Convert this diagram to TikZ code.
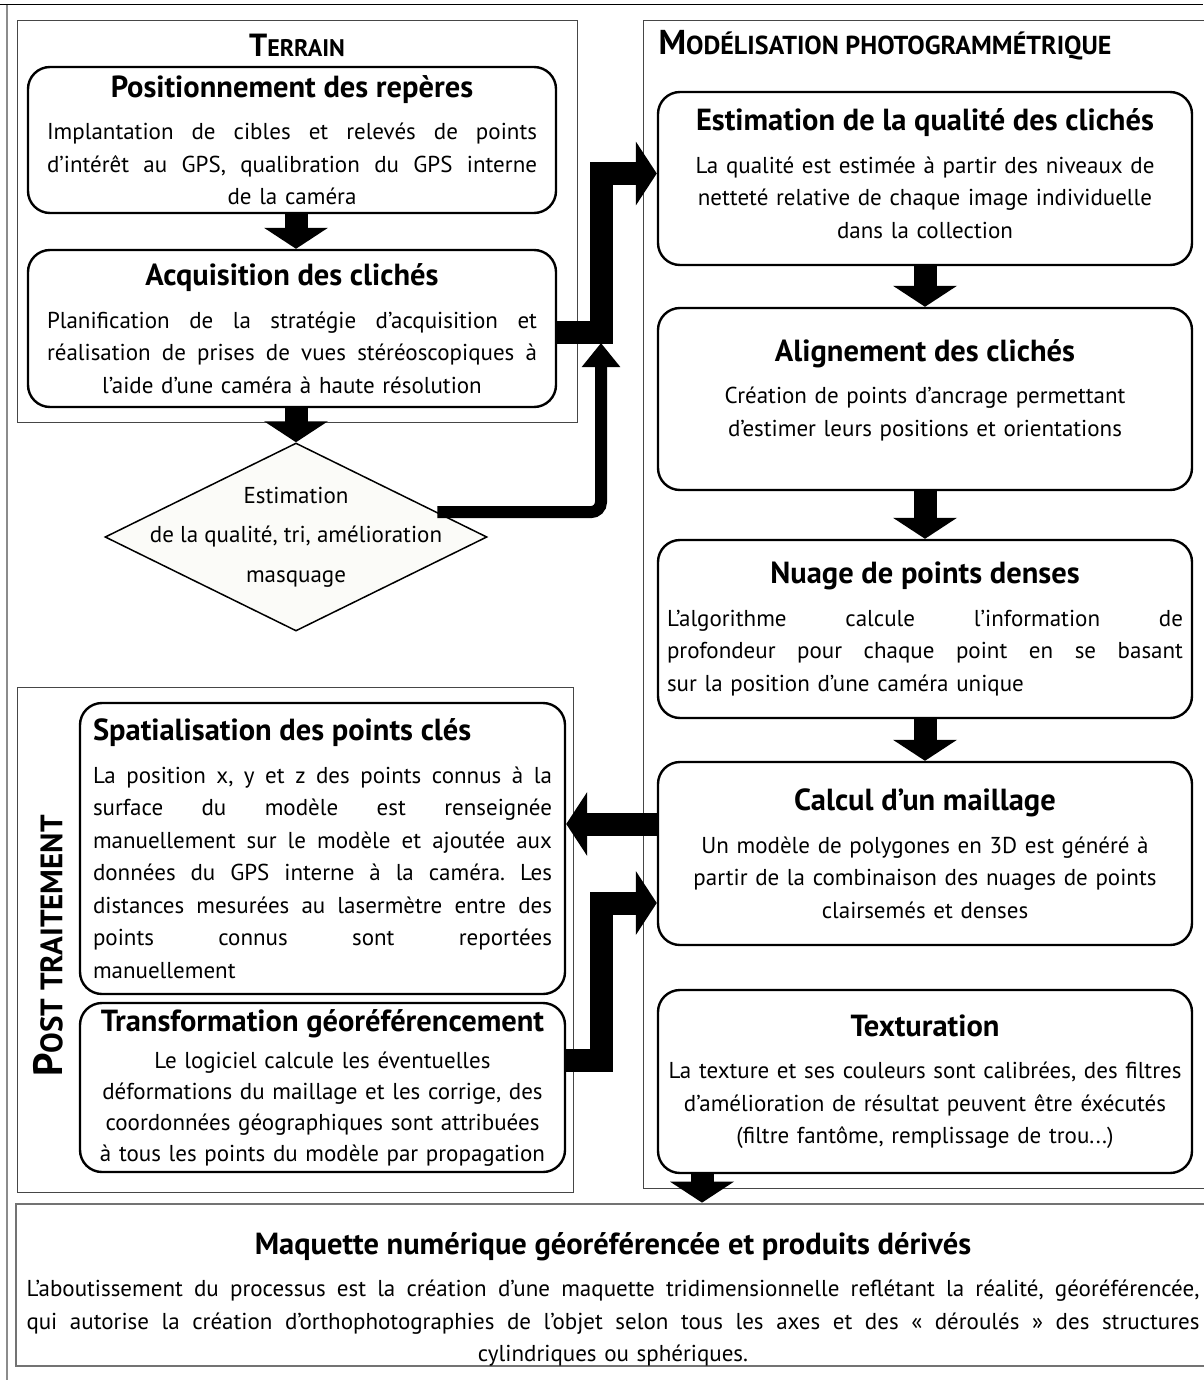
\documentclass[tikz,border=0pt]{standalone}
\usepackage{fontspec}
\setmainfont{PT Sans}
\usetikzlibrary{arrows.meta,shapes.geometric,calc}
\definecolor{DiaFill}{RGB}{251,251,248}
\definecolor{FrameClr}{RGB}{70,70,70}

\newcommand\bodyfont{\fontsize{23}{32.5}\selectfont\frenchspacing}
\newcommand\headfont{\fontsize{30.5}{32.5}\selectfont\bfseries}
\newcommand\jline[1]{\hbox to\hsize{\spaceskip=\fontdimen2\font plus 1fil\relax
  \xspaceskip=\spaceskip #1}}
\newcommand\ctrline[1]{\hbox to\hsize{\hss#1\hss}}
\newcommand\lftline[1]{\hbox to\hsize{#1\hss}}
\newcommand\boxhead[2][10pt]{\hbox to\hsize{\hss\headfont#2\hss}\vskip#1}
\newcommand\lftboxhead[1]{\hbox to\hsize{\headfont#1\hss}\vskip10pt}
\newcommand\fakesc[4]{{\bfseries\fontsize{#1}{#1}\selectfont#3%
  \fontsize{#2}{#1}\selectfont#4}}

\begin{document}
\begin{tikzpicture}[x=1pt,y=-1pt,
  procbox/.style={draw, line width=2.4pt, rounded corners=22pt, fill=white,
    inner xsep=0pt, inner ysep=0pt, font=\bodyfont},
  terrainbox/.style={procbox, minimum width=528pt, text width=490pt},
  postbox/.style={procbox, minimum width=485pt, text width=459pt},
  modelbox/.style={procbox, minimum width=534pt, text width=516pt},
  frameline/.style={draw=FrameClr, line width=0.9pt},
  grouptitle/.style={inner sep=0pt},
  fatarrow/.style={line width=23pt, -{Triangle[width=63pt,length=21pt]}},
  thinlink/.style={line width=12pt, rounded corners=10pt, -{Triangle[width=37pt,length=24pt]}}]
\useasboundingbox (0,0) rectangle (1203,1380);

% outer frame
\draw[black, line width=1pt] (0,5) -- (1203,5);
\draw[black!45, line width=2pt] (7,5) -- (7,1380);

% group frames
\draw[frameline] (17,20) rectangle (577,422);
\draw[frameline] (643,20) rectangle (1215,1188);
\draw[frameline] (17,687) rectangle (573,1192);

\node[grouptitle] (terrainT) at (297,45) {\fakesc{32}{24}{T}{ERRAIN}};
\node[grouptitle] (modelT) at (885,45) {\fakesc{34.5}{26}{M}{ODÉLISATION PHOTOGRAMMÉTRIQUE}};
\node[grouptitle, rotate=90] (postT) at (48,946) {\fakesc{41}{31}{P}{OST TRAITEMENT}};

% terrain
\node[terrainbox, minimum height=146pt, inner ysep=3pt] (pos) at (292,140) {%
  \boxhead{Positionnement des repères}
  \jline{Implantation de cibles et relevés de points}
  \jline{d’intérêt au GPS, qualibration du GPS interne}
  \ctrline{de la caméra}};
\node[terrainbox, minimum height=157pt] (acq) at (292,328.5) {%
  \boxhead{Acquisition des clichés}
  \jline{Planification de la stratégie d’acquisition et}
  \jline{réalisation de prises de vues stéréoscopiques à}
  \ctrline{l’aide d’une caméra à haute résolution}};

\node[diamond, draw, line width=1.5pt, fill=DiaFill, inner sep=0pt,
  minimum width=382pt, minimum height=188pt] (dia) at (296,537) {};
\node[align=center, font=\fontsize{23}{39.5}\selectfont] (diaT) at (dia.center)
  {Estimation\\de la qualité, tri, amélioration\\masquage};

% modelisation
\node[modelbox, minimum height=173pt] (est) at (925,178.5) {%
  \boxhead{Estimation de la qualité des clichés}
  \ctrline{La qualité est estimée à partir des niveaux de}
  \ctrline{netteté relative de chaque image individuelle}
  \ctrline{dans la collection}
  \kern10pt};
\node[modelbox, minimum height=182pt] (ali) at (925,399) {%
  \boxhead{Alignement des clichés}
  \ctrline{Création de points d'ancrage permettant}
  \ctrline{d’estimer leurs positions et orientations}
  \kern18pt};
\node[modelbox, minimum height=178pt] (nua) at (925,629) {%
  \boxhead{Nuage de points denses}
  \jline{L’algorithme calcule l’information de}
  \jline{profondeur pour chaque point en se basant}
  \lftline{sur la position d’une caméra unique}};
\node[modelbox, minimum height=183pt] (cal) at (925,853.5) {%
  \boxhead{Calcul d’un maillage}
  \ctrline{Un modèle de polygones en 3D est généré à}
  \ctrline{partir de la combinaison des nuages de points}
  \ctrline{clairsemés et denses}};
\node[modelbox, minimum height=183pt] (tex) at (925,1081.5) {%
  \boxhead{Texturation}
  \ctrline{La texture et ses couleurs sont calibrées, des filtres}
  \ctrline{d’amélioration de résultat peuvent être éxécutés}
  \ctrline{(filtre fantôme, remplissage de trou...)}};

% post traitement
\node[postbox, minimum height=291pt] (spa) at (322.5,848.5) {%
  \lftboxhead{Spatialisation des points clés}
  \jline{La position x, y et z des points connus à la}
  \jline{surface du modèle est renseignée}
  \jline{manuellement sur le modèle et ajoutée aux}
  \jline{données du GPS interne à la caméra. Les}
  \jline{distances mesurées au lasermètre entre des}
  \jline{points connus sont reportées}
  \lftline{manuellement}};
\node[postbox, minimum height=169pt] (tra) at (322.5,1087.5) {%
  \baselineskip=31pt
  \boxhead[6pt]{Transformation géoréférencement}
  \ctrline{Le logiciel calcule les éventuelles}
  \ctrline{déformations du maillage et les corrige, des}
  \ctrline{coordonnées géographiques sont attribuées}
  \ctrline{à tous les points du modèle par propagation}};

% produit final
\node[draw=black!55, line width=2pt, fill=white, inner xsep=0pt, inner ysep=0pt,
  font=\bodyfont, minimum width=1194pt, minimum height=158pt, text width=1173pt]
  (fin) at (613,1285) {%
  \vskip18pt
  \boxhead{Maquette numérique géoréférencée et produits dérivés}
  \jline{L’aboutissement du processus est la création d’une maquette tridimensionnelle reflétant la réalité, géoréférencée,}
  \jline{qui autorise la création d’orthophotographies de l’objet selon tous les axes et des « déroulés » des structures}
  \ctrline{cylindriques ou sphériques.}};

% connectors
\draw[fatarrow] (pos.south -| dia.north) -- (acq.north -| dia.north);
\draw[fatarrow] (acq.south -| dia.north) -- (dia.north);
\draw[fatarrow, line join=miter] (acq.east |- 0,332) -| (601,173.5) -- (est.west |- 0,173.5);
\draw[thinlink] (dia.10) -| (601,343);

\draw[fatarrow] (est.south) -- (ali.north);
\draw[fatarrow] (ali.south) -- (nua.north);
\draw[fatarrow] (nua.south) -- (cal.north);

\draw[fatarrow] (cal.west |- 0,824) -- (spa.east |- 0,824);
\draw[fatarrow, line join=miter] (tra.east |- 0,1060) -| (601,903) -- (cal.west |- 0,903);
\draw[fatarrow] (tex.south -| 702,0) -- (fin.north -| 702,0);

\end{tikzpicture}
\end{document}
